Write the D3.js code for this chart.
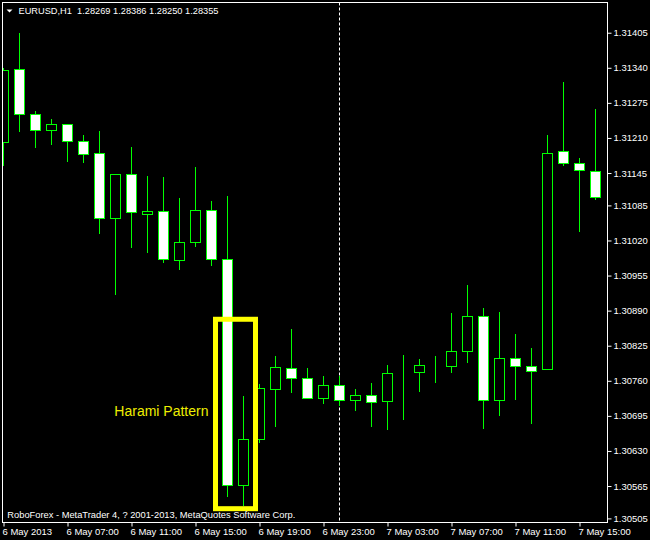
<!DOCTYPE html>
<html><head><meta charset="utf-8">
<script src="https://cdn.jsdelivr.net/npm/d3@7"></script>
<style>
html,body{margin:0;padding:0;background:#000;}
svg{display:block;}
text{font-family:"Liberation Sans",Arial,sans-serif;}
</style></head>
<body>
<svg id="chart" width="650" height="540"></svg>
<script>
// ---- data ----
const times = ["6 May 03:00","6 May 04:00","6 May 05:00","6 May 06:00","6 May 07:00","6 May 08:00","6 May 09:00","6 May 10:00","6 May 11:00","6 May 12:00","6 May 13:00","6 May 14:00","6 May 15:00","6 May 16:00","6 May 17:00","6 May 18:00","6 May 19:00","6 May 20:00","6 May 21:00","6 May 22:00","6 May 23:00","7 May 00:00","7 May 01:00","7 May 02:00","7 May 03:00","7 May 04:00","7 May 05:00","7 May 06:00","7 May 07:00","7 May 08:00","7 May 09:00","7 May 10:00","7 May 11:00","7 May 12:00","7 May 13:00","7 May 14:00","7 May 15:00","7 May 16:00"];
const openP  = [1.31202,1.31337,1.31254,1.31224,1.31235,1.31204,1.31182,1.31061,1.31144,1.31070,1.31074,1.30984,1.31017,1.31076,1.30985,1.30566,1.30653,1.30744,1.30783,1.30766,1.30729,1.30752,1.30724,1.30733,1.30722,1.30774,1.30776,1.30787,1.30787,1.30816,1.30880,1.30724,1.30803,1.30787,1.30781,1.31185,1.31163,1.31148];
const highP  = [1.31342,1.31406,1.31262,1.31247,1.31237,1.31217,1.31225,1.31144,1.31195,1.31141,1.31139,1.31101,1.31158,1.31095,1.31104,1.30734,1.30755,1.30808,1.30858,1.30786,1.30771,1.30770,1.30747,1.30758,1.30791,1.30810,1.30802,1.30808,1.30887,1.30939,1.30897,1.30889,1.30849,1.30823,1.31217,1.31315,1.31175,1.31266];
const lowP   = [1.31160,1.31222,1.31194,1.31199,1.31168,1.31166,1.31033,1.30920,1.31008,1.30999,1.30981,1.30968,1.31010,1.30975,1.30547,1.30529,1.30647,1.30677,1.30740,1.30728,1.30719,1.30716,1.30705,1.30677,1.30671,1.30690,1.30742,1.30758,1.30777,1.30795,1.30673,1.30697,1.30727,1.30682,1.30781,1.31160,1.31038,1.31096];
const closeP = [1.31335,1.31254,1.31224,1.31235,1.31204,1.31180,1.31061,1.31144,1.31072,1.31075,1.30986,1.31018,1.31076,1.30985,1.30566,1.30653,1.30746,1.30785,1.30766,1.30728,1.30752,1.30724,1.30733,1.30720,1.30774,1.30774,1.30789,1.30787,1.30816,1.30880,1.30724,1.30803,1.30787,1.30778,1.31183,1.31163,1.31150,1.31100];
const yTicks = [1.31405,1.31340,1.31275,1.31210,1.31145,1.31085,1.31020,1.30955,1.30890,1.30825,1.30760,1.30695,1.30630,1.30565,1.30505];
const xTickTimes = ["6 May 03:00","6 May 07:00","6 May 11:00","6 May 15:00","6 May 19:00","6 May 23:00","7 May 03:00","7 May 07:00","7 May 11:00","7 May 15:00"];
const xTickLabels = ["6 May 2013","6 May 07:00","6 May 11:00","6 May 15:00","6 May 19:00","6 May 23:00","7 May 03:00","7 May 07:00","7 May 11:00","7 May 15:00"];
const separatorTime = "7 May 00:00";
const haramiBars = ["6 May 17:00","6 May 18:00"];
const haramiRange = [1.30874, 1.30523];
const titleText = "EURUSD,H1  1.28269 1.28386 1.28250 1.28355";
const copyrightText = "RoboForex - MetaTrader 4, ? 2001-2013, MetaQuotes Software Corp.";
const annotationText = "Harami Pattern";

// ---- layout ----
const plot = {left: 2.5, top: 2.5, right: 607.5, bottom: 522.5};
const svg = d3.select("#chart");
svg.append("rect").attr("width",650).attr("height",540).attr("fill","#000");

const x = d3.scalePoint().domain(times).range([3.5, 3.5 + 16*(times.length-1)]).padding(0);
const y = d3.scaleLinear().domain([1.304974, 1.31461]).range([plot.bottom, plot.top]);
const cy = v => Math.round(y(v)) + 0.5;

const data = times.map((t,i)=>({t, o:openP[i], h:highP[i], l:lowP[i], c:closeP[i]}));

svg.append("defs").append("clipPath").attr("id","clip")
  .append("rect").attr("x",plot.left).attr("y",plot.top)
  .attr("width",plot.right-plot.left).attr("height",plot.bottom-plot.top);

// separator (dashed)
svg.append("line")
  .attr("x1",x(separatorTime)).attr("x2",x(separatorTime))
  .attr("y1",plot.top).attr("y2",plot.bottom)
  .attr("stroke","#fff").attr("stroke-width",1).attr("stroke-dasharray","3,2");

const g = svg.append("g").attr("clip-path","url(#clip)").attr("shape-rendering","crispEdges");
const candles = g.selectAll("g.c").data(data).join("g").attr("class","c");
candles.append("line")
  .attr("x1",d=>x(d.t)).attr("x2",d=>x(d.t))
  .attr("y1",d=>cy(d.h)).attr("y2",d=>cy(d.l))
  .attr("stroke","#00ff00").attr("stroke-width",1);
candles.append("rect")
  .attr("x",d=>x(d.t)-5).attr("width",10)
  .attr("y",d=>cy(Math.max(d.o,d.c)))
  .attr("height",d=>Math.abs(cy(d.o)-cy(d.c)))
  .attr("fill",d=>d.c<d.o?"#fff":"#000")
  .attr("stroke","#00ff00").attr("stroke-width",1);

// harami box
const hx0 = x(haramiBars[0]) - 12, hx1 = x(haramiBars[1]) + 12;
svg.append("rect")
  .attr("x",hx0).attr("y",y(haramiRange[0]))
  .attr("width",hx1-hx0).attr("height",y(haramiRange[1])-y(haramiRange[0]))
  .attr("fill","none").attr("stroke","#ffff00").attr("stroke-width",5);

svg.append("text").attr("x",hx0-7).attr("y",415.5)
  .attr("text-anchor","end").attr("font-size","14px").attr("fill","#eeee00")
  .text(annotationText);

// frame
svg.append("rect").attr("x",plot.left).attr("y",plot.top)
  .attr("width",plot.right-plot.left).attr("height",plot.bottom-plot.top)
  .attr("fill","none").attr("stroke","#fff").attr("stroke-width",1);

// right axis
const yAxis = d3.axisRight(y).tickValues(yTicks).tickFormat(d3.format(".5f")).tickSize(4).tickPadding(2);
const ya = svg.append("g").attr("transform",`translate(${plot.right},0)`).call(yAxis);
ya.select(".domain").remove();
ya.selectAll(".tick line").attr("stroke","#fff");
ya.selectAll(".tick text").attr("fill","#fff").attr("font-size","9.5px")
  .attr("font-family","Liberation Sans, Arial, sans-serif");

// bottom axis
const xAxis = d3.axisBottom(x).tickValues(xTickTimes)
  .tickFormat(d=>xTickLabels[xTickTimes.indexOf(d)]).tickSize(4);
const xa = svg.append("g").attr("transform",`translate(0,${plot.bottom})`).call(xAxis);
xa.select(".domain").remove();
xa.selectAll(".tick line").attr("stroke","#fff");
xa.selectAll(".tick text").attr("fill","#fff").attr("font-size","9.5px")
  .attr("font-family","Liberation Sans, Arial, sans-serif")
  .attr("text-anchor","start").attr("x",-1.5).attr("y",12.5).attr("dy",0);

// title
svg.append("path").attr("d","M6.5,9.5 L12.5,9.5 L9.5,12.5 Z").attr("fill","#fff");
svg.append("text").attr("x",18.5).attr("y",14).attr("font-size","9.5px").attr("fill","#fff")
  .attr("textLength",200).attr("lengthAdjust","spacingAndGlyphs").style("white-space","pre")
  .text(titleText);

// copyright
svg.append("text").attr("x",7.3).attr("y",517.5).attr("font-size","9px").attr("fill","#fff")
  .attr("textLength",288).attr("lengthAdjust","spacingAndGlyphs")
  .text(copyrightText);
</script>
</body></html>
